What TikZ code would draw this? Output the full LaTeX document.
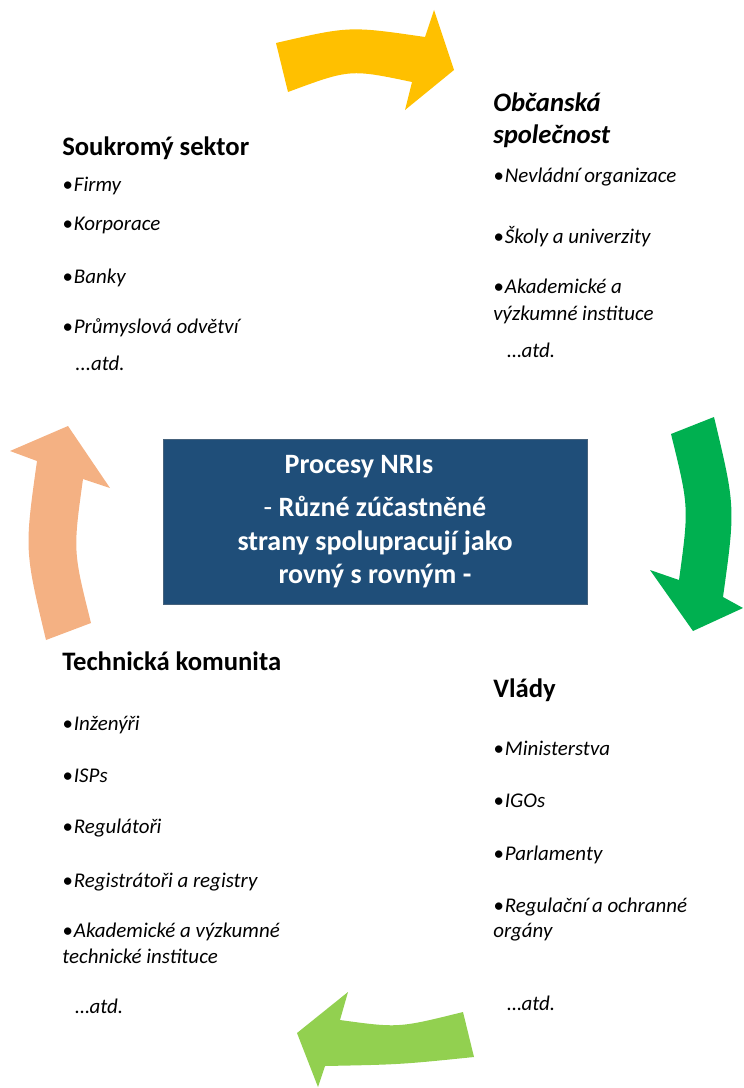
\documentclass[tikz,border=0pt]{standalone}
\usepackage{fontspec}
\setmainfont{Carlito}
\usetikzlibrary{positioning}
\definecolor{nriblue}{RGB}{31,78,121}
\definecolor{arrowyellow}{RGB}{255,192,0}
\definecolor{arrowgreen}{RGB}{0,176,80}
\definecolor{arrowlime}{RGB}{146,208,80}
\definecolor{arrowpeach}{RGB}{244,177,131}

\begin{document}
\begin{tikzpicture}[
    x=0.75pt, y=-0.75pt,
    heading/.style={anchor=base west, inner sep=0pt,
                    font=\fontsize{20}{24}\selectfont\bfseries},
    item/.style={anchor=base west, inner sep=0pt,
                 font=\fontsize{15.7}{19}\selectfont\itshape},
    procbox/.style={rectangle, fill=nriblue, draw=nriblue!60!gray, line width=0.5pt,
                    minimum width=318pt, minimum height=123.75pt, inner sep=0pt},
    boxtext/.style={anchor=base, inner sep=0pt, text=white,
                    font=\fontsize{21}{25}\selectfont\bfseries}
]
    \useasboundingbox (0,0) rectangle (743,1088);

    % Arrows round the box
    \fill[arrowyellow] (276,43) .. controls (349.5,26) .. (425,37) -- (434,10) -- (454,70)
        -- (405,110) -- (412,82) .. controls (350,69) .. (288,92) -- cycle;
    \fill[arrowgreen] (671,434) -- (714,417) .. controls (735.5,507) .. (723,597) -- (743,608)
        -- (693,631) -- (650,570) -- (679,580) .. controls (689,507) .. (671,434) -- cycle;
    \fill[arrowlime] (463,1012) .. controls (398.5,1028) .. (340,1020) -- (348,992) -- (297,1033)
        -- (318,1087) -- (325,1066) .. controls (400.5,1064.5) .. (474,1057) -- cycle;
    \fill[arrowpeach] (46,640) -- (91,623) .. controls (73,551) .. (83,479) -- (110,488)
        -- (68,426) -- (10,451) -- (37,461) .. controls (24.5,550) .. (46,640) -- cycle;

    % Centre box
    \node[procbox] (nri) at (375,521.5) {};
    \node[boxtext] (nri1) at (359,473) {Procesy NRIs};
    \node[boxtext] (nri2) at (375,516) {{\mdseries -} Různé zúčastněné};
    \node[boxtext] (nri3) at (375,550) {strany spolupracují jako};
    \node[boxtext] (nri4) at (375,583) {rovný s rovným -};

    % Private sector
    \node[heading] (priv) at (62,155) {Soukromý sektor};
    \node[item] (priv1) at (62,191) {•\kern.06em Firmy};
    \node[item] (priv2) at (62,230) {•\kern.06em Korporace};
    \node[item] (priv3) at (62,283) {•\kern.06em Banky};
    \node[item] (priv4) at (62,333) {•\kern.06em Průmyslová odvětví};
    \node[item] (priv5) at (75,370) {...atd.};

    % Civil society
    \node[heading, font=\fontsize{20}{24}\selectfont\bfseries\itshape] (civ) at (493,112) {Občanská};
    \node[heading, font=\fontsize{20}{24}\selectfont\bfseries\itshape] (civb) at (493,143) {společnost};
    \node[item] (civ1) at (493,182) {•\kern.06em Nevládní organizace};
    \node[item] (civ2) at (493,243) {•\kern.06em Školy a univerzity};
    \node[item] (civ3) at (493,293) {•\kern.06em Akademické a};
    \node[item] (civ3b) at (493,320) {výzkumné instituce};
    \node[item] (civ4) at (507,357) {…atd.};

    % Technical community
    \node[heading] (tech) at (62,670) {Technická komunita};
    \node[item] (tech1) at (62,730) {•\kern.06em Inženýři};
    \node[item] (tech2) at (62,782) {•\kern.06em ISPs};
    \node[item] (tech3) at (62,833) {•\kern.06em Regulátoři};
    \node[item] (tech4) at (62,887) {•\kern.06em Registrátoři a registry};
    \node[item] (tech5) at (62,937) {•\kern.06em Akademické a výzkumné};
    \node[item] (tech5b) at (62,963) {technické instituce};
    \node[item] (tech6) at (75,1013) {…atd.};

    % Governments
    \node[heading] (gov) at (493,697) {Vlády};
    \node[item] (gov1) at (493,755) {•\kern.06em Ministerstva};
    \node[item] (gov2) at (493,807) {•\kern.06em IGOs};
    \node[item] (gov3) at (493,860) {•\kern.06em Parlamenty};
    \node[item] (gov4) at (493,912) {•\kern.06em Regulační a ochranné};
    \node[item] (gov4b) at (493,937) {orgány};
    \node[item] (gov5) at (507,1010) {…atd.};
\end{tikzpicture}
\end{document}
